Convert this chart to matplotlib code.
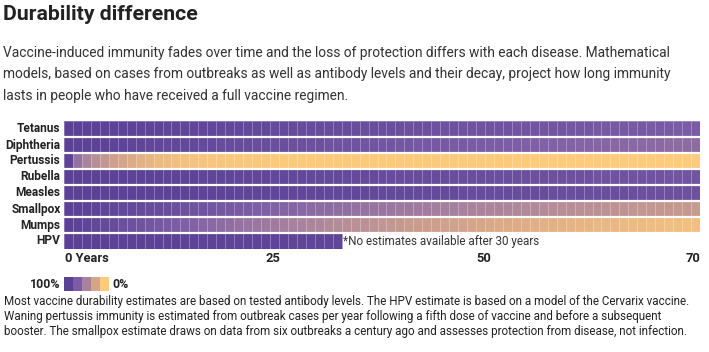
import numpy as np
import matplotlib
matplotlib.use("Agg")
import matplotlib.pyplot as plt
from matplotlib.colors import LinearSegmentedColormap

W, H = 709, 352

diseases = ["Tetanus", "Diphtheria", "Pertussis", "Rubella", "Measles", "Smallpox", "Mumps", "HPV"]
years = list(range(0, 71))
tick_values = [0, 25, 50, 70]
tick_labels = ["0 Years", "25", "50", "70"]

# estimated remaining protection (%) per year after vaccination
tetanus = [100,100,99,99,99,98,98,98,97,97,
           97,96,96,96,95,95,95,94,94,94,
           93,93,93,92,92,92,91,91,91,90,
           90,90,89,89,89,88,88,88,87,87,
           87,86,86,86,85,85,85,84,84,84,
           83,83,83,82,82,82,81,81,81,80,
           80,80,79,79,79,78,78,78,77,77,77]
diphtheria = [100,99,99,98,98,97,97,96,96,95,
              95,94,94,93,93,92,92,91,91,90,
              90,89,89,88,88,87,87,86,86,85,
              85,84,84,83,83,82,82,81,81,80,
              80,79,79,78,78,77,77,76,76,75,
              75,74,74,73,73,72,72,71,71,70,
              70,69,69,68,68,67,67,66,66,65,65]
pertussis = [98,62,50,42,36,30,26,22,18,15,
             12,10,8,7,6,5,4,4,3,3,
             2,2,2,1,1,1,1,1,1,1,
             1,1,1,1,1,1,1,1,1,1,
             1,1,1,1,1,1,1,1,1,1,
             0,0,0,0,0,0,0,0,0,0,
             0,0,0,0,0,0,0,0,0,0,0]
rubella = [100,100,100,99,99,99,99,98,98,98,
           98,97,97,97,97,96,96,96,96,95,
           95,95,95,94,94,94,94,93,93,93,
           93,92,92,92,92,91,91,91,91,90,
           90,90,90,89,89,89,89,88,88,88,
           88,87,87,87,87,86,86,86,86,85,
           85,85,85,84,84,84,84,83,83,83,83]
measles = [100,100,100,100,99,99,99,99,99,98,
           98,98,98,98,97,97,97,97,97,96,
           96,96,96,96,95,95,95,95,95,94,
           94,94,94,94,93,93,93,93,93,92,
           92,92,92,92,91,91,91,91,91,90,
           90,90,90,90,89,89,89,89,89,88,
           88,88,88,88,87,87,87,87,87,86,86]
smallpox = [100,99,98,97,96,95,94,93,92,91,
            90,89,88,86,85,84,82,81,80,78,
            77,75,74,73,71,70,69,67,66,65,
            64,63,62,61,60,59,58,57,56,55,
            54,53,52,52,51,50,49,48,48,47,
            46,45,45,44,43,42,42,41,40,40,
            39,38,38,37,36,36,35,35,34,34,33]
mumps = [100,98,96,94,92,90,88,86,84,82,
         80,78,76,74,72,70,68,66,64,62,
         60,58,56,55,53,51,50,48,47,45,
         44,42,41,40,38,37,36,35,33,32,
         31,30,29,28,27,26,25,24,23,22,
         21,20,19,18,18,17,16,15,15,14,
         13,13,12,11,11,10,10,9,9,8,8]
hpv = [100,100,100,100,99,99,99,99,99,99,
       99,98,98,98,98,98,98,98,97,97,
       97,97,97,97,97,96,96,96,96,96,96]

legend_values = [100, 75, 50, 25, 0]

rows = [tetanus, diphtheria, pertussis, rubella, measles, smallpox, mumps, hpv]
n_years = len(years)
Z = np.full((len(rows), n_years), np.nan)
for i, r in enumerate(rows):
    Z[i, :len(r)] = r
Z = np.ma.masked_invalid(Z)

cmap = LinearSegmentedColormap.from_list(
    "dur", [(0.0, "#fdcb7b"), (0.25, "#d6a688"), (0.5, "#a9829d"),
            (0.75, "#7d5ea6"), (1.0, "#5a4196")])

fig = plt.figure(figsize=(W/100, H/100), dpi=100)
fig.patch.set_facecolor("white")

def fx(px):
    return px / W
def fy(py):
    return 1 - py / H

cond_bold = dict(family=["Roboto", "DejaVu Sans"], weight="bold")
reg = dict(family=["Roboto", "DejaVu Sans"])

# title and subtitle
fig.text(fx(3), fy(15), "Durability difference", fontsize=15.3, color="#222222",
         va="center", ha="left", **cond_bold)
sub = ["Vaccine-induced immunity fades over time and the loss of protection differs with each disease. Mathematical",
       "models, based on cases from outbreaks as well as antibody levels and their decay, project how long immunity",
       "lasts in people who have received a full vaccine regimen."]
for k, line in enumerate(sub):
    fig.text(fx(3), fy(53 + 21.3 * k), line, fontsize=9.9, color="#333333",
             va="center", ha="left", **reg)

# heatmap
x0, x1, y0, y1 = 64, 700, 121, 249
ax = fig.add_axes([fx(x0), fy(y1), fx(x1) - fx(x0), fy(y0) - fy(y1)])
xe = np.arange(n_years + 1) - 0.5
ye = np.arange(len(rows) + 1) - 0.5
ax.pcolormesh(xe, ye, Z, cmap=cmap, vmin=0, vmax=100,
              edgecolors=(1, 1, 1, 0.28), linewidth=0.5)
for yy in ye[1:-1]:
    ax.axhline(yy, color="white", lw=1.6)
ax.set_xlim(xe[0], xe[-1])
ax.set_ylim(ye[-1], ye[0])
ax.set_xticks([])
ax.set_yticks([])
for s in ax.spines.values():
    s.set_visible(False)

for i, d in enumerate(diseases):
    ax.text(-0.9, i, d, ha="right", va="center", fontsize=8.6, color="#222222", **cond_bold)

ax.text(len(hpv) - 0.5 + 0.2, len(rows) - 1, "*No estimates available after 30 years",
        ha="left", va="center", fontsize=8.4, color="#333333", **reg)

# x tick labels (positions as in reference)
tick_frac = [0.0, 0.329, 0.660, 1.0]
tick_ha = ["left", "center", "center", "right"]
for v, lab, f, ha in zip(tick_values, tick_labels, tick_frac, tick_ha):
    fig.text(fx(x0) + f * (fx(x1) - fx(x0)) + (fx(1) if ha == "left" else 0), fy(258), lab,
             ha=ha, va="center", fontsize=9.3, color="#222222", **cond_bold)

# legend
lax = fig.add_axes([fx(64), fy(291), fx(108) - fx(64), fy(277) - fy(291)])
lax.imshow(np.array([legend_values]), cmap=cmap, vmin=0, vmax=100, aspect="auto")
lax.set_axis_off()
fig.text(fx(60), fy(284), "100%", ha="right", va="center", fontsize=8.8, color="#222222", **cond_bold)
fig.text(fx(112), fy(284), "0%", ha="left", va="center", fontsize=8.8, color="#222222", **cond_bold)

notes = ["Most vaccine durability estimates are based on tested antibody levels. The HPV estimate is based on a model of the Cervarix vaccine.",
         "Waning pertussis immunity is estimated from outbreak cases per year following a fifth dose of vaccine and before a subsequent",
         "booster. The smallpox estimate draws on data from six outbreaks a century ago and assesses protection from disease, not infection."]
for k, line in enumerate(notes):
    fig.text(fx(4), fy(302 + 14.5 * k), line, fontsize=8.4, color="#222222",
             va="center", ha="left", **reg)

fig.savefig("out.png", dpi=100, facecolor="white")
